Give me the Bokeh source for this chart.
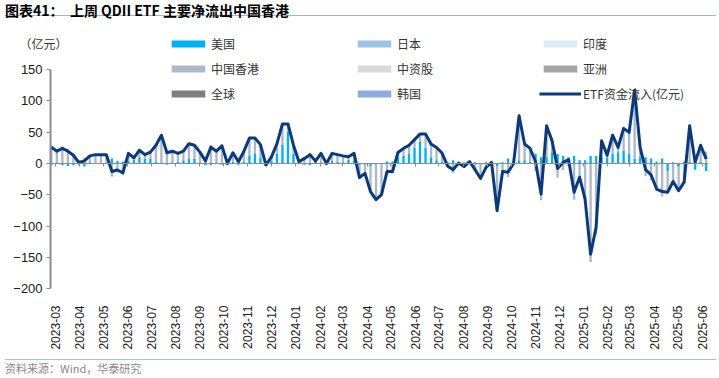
import numpy as np
import pandas as pd
from math import pi
from bokeh.plotting import figure
from bokeh.models import (Range1d, FixedTicker, Label, Legend, LegendItem, Div,
                          DatetimeTickFormatter, DatetimeAxis)
from bokeh.layouts import column
from bokeh.embed import file_html
from bokeh.resources import INLINE

# ---------------- data (weekly, 亿元) ----------------
first_week = "2023-02-24"

etf_flow = [26, 19.5, 24, 19.5, 13, 1.5, 4, 12, 14, 14, 14, -13, -10.5, -15, 16, 9, 21, 14, 18, 29,
            45, 17, 19.5, 16, 19.5, 31.5, 29, 18, 4, 26, 19.5, 28, 0, 17, 2.6, 19.5, 40.5, 40.5, 30, -2.6,
            10.5, 31.5, 63, 63, 29, 2.6, 8, 14, 3.7, 16, 0, 16, 14, 12, 10.5, 16, -22.6, -16, -45, -58,
            -50, -13, -13, 17.5, 24, 29, 38, 47, 47, 31, 25.5, 16.5, -4, -10, 0.5, -5, 3, -10, -24, -6.4,
            1.6, -75.5, -13, -14, 0, 76, 31, 24, 2.7, -49, 60, 36, -8, 1.6, 6, -46, -22, -57, -145, -102,
            36, 13, 45, 25.5, 56, 49.5, 117, 25.5, -10, -18.6, -41, -45, -46, -29, -43.6, -30, 60, 1.6, 29, 7]

us = [-3, 2, -3, -4, -3, -2, -5, 2, 1, 0, 0, 8, 4, 3, 4, 6, 10, 8, 7, 3,
      2, -2, 2, 3, 5, 8, 7, 2, -3, -3, 2, -2, -3, 3, -2, 3, 12, 15, 10, 0,
      4, 15, 30, 50, 15, 3, -2, -3, 3, 2, -2, 4, 3, 2, 6, 5, -3, -2, -4, -2,
      0, 3, 3, 10, 12, 15, 25, 35, 25, 10, 5, 3, 2, 5, 1, 2, 3, 2, -2, 2,
      3, -5, 2, 8, 3, 5, 5, 3, 15, 10, 10, 18, 15, 12, 10, 12, 5, 5, 12, 12,
      10, 10, 15, 18, 20, 15, 8, 10, 10, 8, 3, 8, -12, 2, -5, 3, 3, -10, 3, -12]

hk = [29, 17.5, 27, 23.5, 16, 3.5, 9, 10, 13, 14, 14, -18, -14.5, -15, 12, 3, 11, 6, 11, 26,
      43, 19, 17.5, 13, 14.5, 23.5, 22, 16, 7, 29, 17.5, 30, 3, 14, 4.6, 16.5, 28.5, 25.5, 20, 0.4,
      6.5, 16.5, 33, 13, 14, -0.4, 10, 17, 0.7, 14, 2, 12, 11, 10, 4.5, 11, -16.6, -14, -41, -56,
      -50, -16, -16, 7.5, 12, 14, 13, 12, 22, 21, 20.5, 13.5, -6, -15, -0.5, -7, 0, -12, -22, -8.4,
      -1.4, -67.5, -15, -22, -3, 71, 26, 21, -12.3, -56, 50, 18, -23, -10.4, -4, -58, -27, -62, -154, -114,
      26, 3, 30, 7.5, 36, 34.5, 109, 15.5, -20, -26.6, -41, -53, -34, -31, -38.6, -33, 57, 11.6, 26, 19]

asia = [0, 0, 0, 0, 0, 0, 0, 0, 0, 0, 0, -3, 0, -3, 0, 0, 0, 0, 0, 0,
        0, 0, 0, 0, 0, 0, 0, 0, 0, 0, 0, 0, 0, 0, 0, 0, 0, 0, 0, -3,
        0, 0, 0, 0, 0, 0, 0, 0, 0, 0, 0, 0, 0, 0, 0, 0, -3, 0, 0, 0,
        0, 0, 0, 0, 0, 0, 0, 0, 0, 0, 0, 0, 0, 0, 0, 0, 0, 0, 0, 0,
        0, -3, 0, 0, 0, 0, 0, 0, 0, -3, 0, 0, 0, 0, 0, 0, 0, 0, -3, 0,
        0, 0, 0, 0, 0, 0, 0, 0, 0, 0, -3, 0, 0, 0, 0, 0, 0, 0, 0, 0]

japan = [0, 0, 0, 0, 0, 0, 0, 0, 0, 0, 0, 0, 0, 0, 0, 0, 0, 0, 0, 0,
         0, 0, 0, 0, 0, 0, 0, 0, 0, 0, 0, 0, 0, 0, 0, 0, 0, 0, 0, 0,
         0, 0, 0, 0, 0, 0, 0, 0, 0, 0, 0, 0, 0, 0, 0, 0, 0, 0, 0, 0,
         0, 0, 0, 0, 0, 0, 0, 0, 0, 0, 0, 0, 0, 0, 0, 0, 0, 0, 0, 0,
         0, 0, 0, 0, 0, 0, 0, 0, 0, 0, 0, 0, 0, 0, 0, 0, 0, 0, 0, 0,
         0, 0, 0, 0, 0, 0, 0, 0, 0, 0, 0, 0, 0, 0, 0, 0, 0, 0, 0, 0]
india = list(japan)
cn_stock = list(japan)
global_ = list(japan)
korea = list(japan)

series_names = ["美国", "日本", "印度", "中国香港", "中资股", "亚洲", "全球", "韩国"]
line_name = "ETF资金流入(亿元)"
y_ticks = [-200, -150, -100, -50, 0, 50, 100, 150]
month_labels = ["2023-03", "2023-04", "2023-05", "2023-06", "2023-07", "2023-08", "2023-09",
                "2023-10", "2023-11", "2023-12", "2024-01", "2024-02", "2024-03", "2024-04",
                "2024-05", "2024-06", "2024-07", "2024-08", "2024-09", "2024-10", "2024-11",
                "2024-12", "2025-01", "2025-02", "2025-03", "2025-04", "2025-05", "2025-06"]

# ---------------- styling ----------------
colors = ["#00B0F0", "#9DC3E6", "#DEEBF7", "#ADB9CA", "#D9D9D9", "#A6A6A6", "#7F7F7F", "#8FAADC"]
line_color = "#0B3A7A"
axis_gray = "#8C8C8C"
CJK = "Noto Sans CJK SC"
LAT = "Liberation Sans"

dates = pd.date_range(first_week, periods=len(etf_flow), freq="7D")
month_ms = [pd.Timestamp(m + "-01").timestamp() * 1000 for m in month_labels]
axis_start = pd.Timestamp("2023-02-23")
axis_end = pd.Timestamp("2025-06-09")
axis_start_ms = axis_start.timestamp() * 1000
axis_end_ms = axis_end.timestamp() * 1000

p = figure(x_axis_type="datetime", output_backend="svg", toolbar_location=None,
           frame_width=698, frame_height=262,
           min_border_left=10, min_border_right=2, min_border_top=12, min_border_bottom=59,
           x_range=Range1d(pd.Timestamp("2023-01-03"), axis_end),
           y_range=Range1d(-211, 207.5))
p.outline_line_color = None
p.xgrid.visible = False
p.ygrid.visible = False
p.background_fill_color = "white"
p.border_fill_color = "white"

# stacked bars (positive and negative stacks separately)
bar_w = 3 * 86400000
all_series = [us, japan, india, hk, cn_stock, asia, global_, korea]
pos = np.zeros(len(dates))
neg = np.zeros(len(dates))
renderers = []
for vals, col in zip(all_series, colors):
    v = np.array(vals, dtype=float)
    bottom = np.where(v >= 0, pos, neg)
    top = bottom + v
    pos = np.where(v >= 0, top, pos)
    neg = np.where(v < 0, top, neg)
    r = p.vbar(x=dates, bottom=bottom, top=top, width=bar_w, fill_color=col, line_color=None)
    renderers.append(r)

lr = p.line(dates, etf_flow, line_width=3, line_color=line_color, line_join="round")

# y axis placed at the first date, only spanning -200..150
p.yaxis.fixed_location = axis_start_ms
p.yaxis.bounds = (-200, 150)
p.yaxis.ticker = FixedTicker(ticks=y_ticks)
p.yaxis.axis_line_color = axis_gray
p.yaxis.axis_line_width = 2
p.yaxis.major_tick_line_color = axis_gray
p.yaxis.major_tick_out = 4
p.yaxis.major_tick_in = 0
p.yaxis.minor_tick_line_color = None
p.yaxis.major_label_text_font = LAT
p.yaxis.major_label_text_font_size = "13px"
p.yaxis.major_label_text_color = "#1a1a1a"
p.yaxis.major_label_standoff = 4

fmt = "%Y-%m"
formatter = DatetimeTickFormatter(days=fmt, months=fmt, years=fmt, hours=fmt,
                                  minutes=fmt, seconds=fmt, milliseconds=fmt,
                                  microseconds=fmt, minsec=fmt, hourmin=fmt)

# bottom axis: labels only
p.xaxis.ticker = FixedTicker(ticks=month_ms)
p.xaxis.formatter = formatter
p.xaxis.major_label_orientation = pi / 2
p.xaxis.axis_line_color = None
p.xaxis.major_tick_line_color = None
p.xaxis.minor_tick_line_color = None
p.xaxis.major_label_text_font = LAT
p.xaxis.major_label_text_font_size = "12px"
p.xaxis.major_label_text_color = "#1a1a1a"
p.xaxis.major_label_standoff = 4

# zero-crossing axis: line and month ticks only
zero_axis = DatetimeAxis(fixed_location=0, bounds=(axis_start_ms, axis_end_ms),
                         ticker=FixedTicker(ticks=month_ms), formatter=formatter,
                         axis_line_color=axis_gray, axis_line_width=1,
                         major_tick_line_color=axis_gray, major_tick_out=3, major_tick_in=0,
                         minor_tick_line_color=None, major_label_text_color=None,
                         major_label_text_font_size="1px", major_label_standoff=0)
p.add_layout(zero_axis, "below")

# unit label
p.add_layout(Label(x=9, y=252, x_units="screen", y_units="screen", text="（亿元）",
                   text_font=CJK, text_font_size="12px", text_color="#333333",
                   text_baseline="middle"))

# legend
items = [LegendItem(label=n, renderers=[r]) for n, r in zip(series_names, renderers)]
items.append(LegendItem(label=line_name, renderers=[lr]))
legend = Legend(items=items, ncols=3, orientation="horizontal", location=(157, 192),
                glyph_width=42, glyph_height=9, label_width=137, label_height=20,
                label_standoff=2, spacing=5, padding=0, margin=0,
                label_text_font=CJK, label_text_font_size="12px", label_text_color="#333333",
                border_line_color=None, background_fill_alpha=0)
p.add_layout(legend, "center")

title = Div(text="图表41：&nbsp;&nbsp;上周 QDII ETF 主要净流出中国香港", width=711, height=11,
            styles={"font-family": CJK, "font-size": "14px", "font-weight": "bold",
                    "color": "#000000", "border-bottom": "1px solid #9EB6D2",
                    "line-height": "11px"})
footer = Div(text="资料来源：Wind，华泰研究", width=711, height=16,
             styles={"font-family": CJK, "font-size": "11px", "color": "#8a8a8a",
                     "border-top": "1px solid #A8C0DC", "line-height": "16px"})

layout = column(title, p, footer, spacing=0)
open("out.html", "w").write(file_html(layout, INLINE))
